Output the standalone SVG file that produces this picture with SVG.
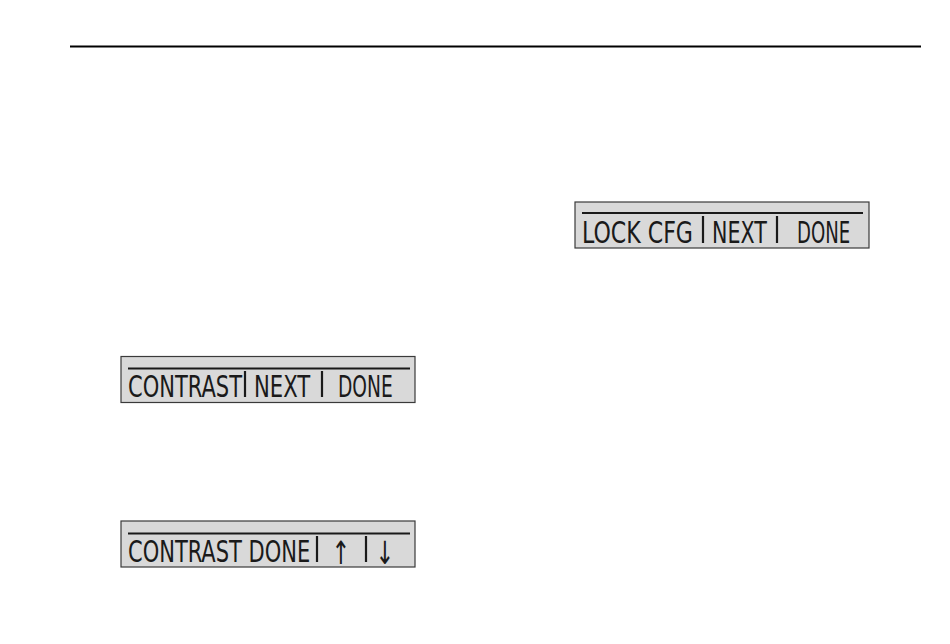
<svg xmlns="http://www.w3.org/2000/svg" width="950" height="644" viewBox="0 0 950 644">
<style>
.box{fill:#d9d9d9;stroke:#3a3a3a;stroke-width:1.2}
.rule{stroke:#1a1a1a;stroke-width:2;fill:none}
.div{stroke:#1a1a1a;stroke-width:2.2;fill:none}
.lcd{font-family:"DejaVu Sans Condensed","Liberation Sans Narrow","Liberation Sans",sans-serif;font-size:31px;fill:#1a1a1a}
.arr{font-family:"DejaVu Sans",sans-serif;font-size:32px;fill:#1a1a1a}
</style>
<rect width="950" height="644" fill="#ffffff"/>
<line x1="70" y1="46.5" x2="921" y2="46.5" stroke="#000" stroke-width="2"/>
<g id="lock-cfg">
<rect class="box" x="575" y="202" width="294" height="46"/>
<line class="rule" x1="582" y1="213" x2="863" y2="213"/>
<text class="lcd" transform="translate(582,243) scale(0.75,1)" textLength="148" lengthAdjust="spacingAndGlyphs">LOCK CFG</text>
<line class="div" x1="703" y1="216" x2="703" y2="243"/>
<text class="lcd" transform="translate(712,243) scale(0.75,1)" textLength="73" lengthAdjust="spacingAndGlyphs">NEXT</text>
<line class="div" x1="777" y1="216" x2="777" y2="243"/>
<text class="lcd" transform="translate(797,243) scale(0.75,1)" textLength="71" lengthAdjust="spacingAndGlyphs">DONE</text>
</g>
<g id="contrast-next">
<rect class="box" x="121" y="356.5" width="294" height="46"/>
<line class="rule" x1="128" y1="368.5" x2="410" y2="368.5"/>
<text class="lcd" transform="translate(128,397) scale(0.75,1)" textLength="152" lengthAdjust="spacingAndGlyphs">CONTRAST</text>
<line class="div" x1="245" y1="371" x2="245" y2="397"/>
<text class="lcd" transform="translate(254,397) scale(0.75,1)" textLength="75" lengthAdjust="spacingAndGlyphs">NEXT</text>
<line class="div" x1="322" y1="371" x2="322" y2="397"/>
<text class="lcd" transform="translate(338,397) scale(0.75,1)" textLength="73" lengthAdjust="spacingAndGlyphs">DONE</text>
</g>
<g id="contrast-done">
<rect class="box" x="121" y="521" width="294" height="46"/>
<line class="rule" x1="128" y1="533.5" x2="410" y2="533.5"/>
<text class="lcd" transform="translate(128,562) scale(0.75,1)" textLength="243" lengthAdjust="spacingAndGlyphs">CONTRAST DONE</text>
<line class="div" x1="317" y1="536" x2="317" y2="562"/>
<text class="arr" transform="translate(341,564) scale(0.7,1)" text-anchor="middle">↑</text>
<line class="div" x1="366" y1="536" x2="366" y2="562"/>
<text class="arr" transform="translate(385,564) scale(0.7,1)" text-anchor="middle">↓</text>
</g>
<g id="connectors"></g>
</svg>
